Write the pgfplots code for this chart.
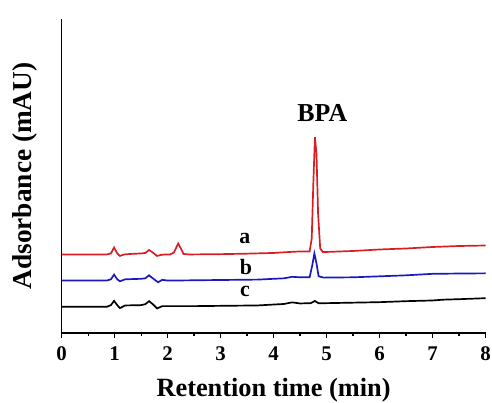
\documentclass[border=0pt]{standalone}
\usepackage{pgfplots}
\pgfplotsset{compat=1.18}
\usepackage{fontspec}
\setmainfont{Liberation Serif}
\definecolor{cRed}{RGB}{215,30,35}
\definecolor{cBlue}{RGB}{25,25,190}
\begin{document}
\begin{tikzpicture}
\useasboundingbox (-62pt,-70pt) rectangle (433pt,335pt);
\begin{axis}[
  at={(0,0)}, anchor=south west,
  scale only axis, width=426.5pt, height=316pt,
  xmin=0, xmax=8, ymin=0, ymax=316,
  axis x line=bottom, axis y line=left,
  axis line style={-, line width=1.4pt},
  xtick={0,1,...,8}, minor xtick={0.5,1.5,...,7.5},
  ytick=\empty,
  tick align=outside,
  major tick length=5pt, minor tick length=3pt,
  every tick/.style={line width=1.2pt, black},
  /pgf/number format/assume math mode=true,
  ticklabel style={font=\bfseries\fontsize{21}{21}\selectfont},
  xticklabel style={yshift=-5pt},
  xlabel={Retention time (min)},
  ylabel={Adsorbance (mAU)},
  xlabel style={font=\bfseries\fontsize{26.5}{26.5}\selectfont, at={(axis description cs:0.5,-0.203)}, anchor=base},
  ylabel style={font=\bfseries\fontsize{27.5}{27.5}\selectfont, at={(axis description cs:-0.087,0.5)}, anchor=center},
  clip=false,
]
\addplot[cRed, line width=1.7pt] coordinates {
(0,79) (0.85,79) (0.93,80) (0.99,86) (1.05,80) (1.10,77.5) (1.18,79) (1.3,79.5) (1.5,80) (1.58,80.5) (1.65,83.5) (1.72,81) (1.80,77.5) (1.87,78.5) (1.95,79) (2.05,79) (2.12,81) (2.20,90) (2.26,84) (2.30,79.5) (2.4,79) (3.0,79.3) (3.5,79.8) (4.0,80.5) (4.3,81.5) (4.5,82) (4.68,82) (4.72,95) (4.75,150) (4.78,197) (4.81,180) (4.84,120) (4.88,85) (4.93,81.5) (5.0,81.5) (5.5,82.5) (6.0,84) (6.5,85) (7.0,86.5) (7.5,87.5) (8.0,88)
};
\addplot[cBlue, line width=1.7pt] coordinates {
(0,52.7) (0.85,52.7) (0.93,54) (0.99,58.7) (1.05,54) (1.10,52) (1.2,54) (1.5,54.5) (1.58,55) (1.65,58) (1.72,55) (1.82,51) (1.9,53.5) (2.0,52.7) (2.5,53) (3.0,53.3) (3.7,53.7) (4.2,55) (4.35,56.5) (4.5,56) (4.68,56) (4.73,68) (4.77,80) (4.81,70) (4.85,57) (4.95,55.7) (5.5,56) (6.0,57) (6.5,58) (7.0,59.5) (7.5,59.8) (8.0,60)
};
\addplot[black, line width=1.7pt] coordinates {
(0,26.3) (0.85,26.3) (0.93,28) (0.99,32.3) (1.05,28) (1.10,25) (1.2,27.7) (1.5,28) (1.58,29) (1.65,32) (1.72,29) (1.80,24.7) (1.9,27) (2.5,27) (3.0,27.3) (3.7,27.7) (4.2,29.2) (4.35,30.8) (4.5,29.7) (4.7,30) (4.78,32.2) (4.85,29.9) (5.0,30) (5.5,30.5) (6.0,31) (6.5,32) (7.0,32.7) (7.2,33.5) (7.5,34) (8.0,35)
};
\node[font=\bfseries\fontsize{22}{22}\selectfont] at (axis cs:3.46,95) {a};
\node[font=\bfseries\fontsize{22}{22}\selectfont] at (axis cs:3.48,66.7) {b};
\node[font=\bfseries\fontsize{22}{22}\selectfont] at (axis cs:3.46,41.7) {c};
\node[font=\bfseries\fontsize{26}{26}\selectfont] at (axis cs:4.92,221) {BPA};
\end{axis}
\end{tikzpicture}
\end{document}
